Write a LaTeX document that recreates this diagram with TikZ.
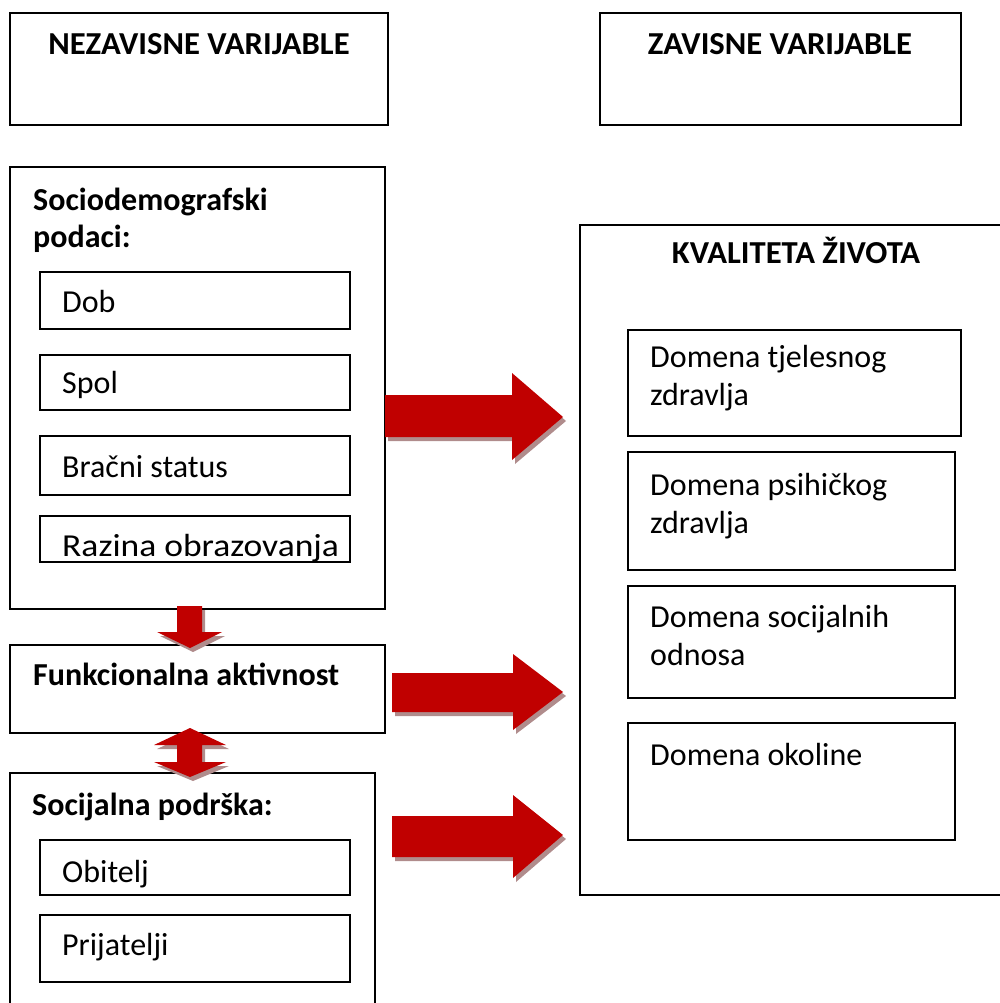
\documentclass[tikz,border=0pt]{standalone}
\usepackage{fontspec}
\setmainfont{Carlito}
\definecolor{arrowc}{RGB}{192,0,0}
\definecolor{shadowc}{RGB}{176,140,140}
\newcommand\myblockarrow[1]{%
  \fill[shadowc, shift={(3,4)}] #1;
  \fill[arrowc] #1;}
\begin{document}
\begin{tikzpicture}[x=1pt,y=-1pt,
  box/.style={draw=black, line width=1.6pt, fill=white},
  txt/.style={inner sep=0pt, anchor=base west, font=\fontsize{32}{38}\selectfont},
  btxt/.style={txt, font=\fontsize{32}{38}\selectfont\bfseries},
  htxt/.style={inner sep=0pt, anchor=base, font=\fontsize{32}{38}\selectfont\bfseries}]
\useasboundingbox (0,0) rectangle (1000,1003);
\clip (0,0) rectangle (1000,1003);
% header boxes
\draw[box] (10,13) rectangle (388,125);
\node[htxt] (nez) at (199,55) {\scalebox{1.02}[1]{NEZAVISNE VARIJABLE}};
\draw[box] (600,13) rectangle (961,125);
\node[htxt] (zav) at (780,55) {\scalebox{1.02}[1]{ZAVISNE VARIJABLE}};
% sociodemographic
\draw[box] (10,167) rectangle (385,609);
\node[btxt] (socd1) at (33,210) {Sociodemografski};
\node[btxt] (socd2) at (33,247) {podaci:};
\draw[box] (40,272) rectangle (350,329);
\node[txt] (dob) at (62,312) {Dob};
\draw[box] (40,355) rectangle (350,410);
\node[txt] (spol) at (62,393) {Spol};
\draw[box] (40,436) rectangle (350,495);
\node[txt] (brac) at (62,477) {Bračni status};
\draw[box] (40,516) rectangle (350,562);
\node[txt] (raz) at (62,556) {\scalebox{1.11}[1]{Razina obrazovanja}};
% functional
\draw[box] (10,645) rectangle (385,733);
\node[btxt] (funk) at (33,685) {Funkcionalna aktivnost};
% social support
\draw[box] (10,773) rectangle (375,1020);
\node[btxt] (socp) at (32,815) {Socijalna podrška:};
\draw[box] (40,840) rectangle (350,895);
\node[txt] (obi) at (62,882) {Obitelj};
\draw[box] (40,915) rectangle (350,982);
\node[txt] (pri) at (62,955) {Prijatelji};
% quality of life
\draw[box] (580,225) rectangle (1020,895);
\node[htxt] (kv) at (796,263) {\scalebox{1.02}[1]{KVALITETA ŽIVOTA}};
\draw[box] (628,330) rectangle (961,436);
\node[txt] (d1a) at (650,367) {Domena tjelesnog};
\node[txt] (d1b) at (650,405) {zdravlja};
\draw[box] (628,452) rectangle (955,570);
\node[txt] (d2a) at (650,495) {Domena psihičkog};
\node[txt] (d2b) at (650,533) {zdravlja};
\draw[box] (628,586) rectangle (955,698);
\node[txt] (d3a) at (650,627) {Domena socijalnih};
\node[txt] (d3b) at (650,665) {odnosa};
\draw[box] (628,723) rectangle (955,840);
\node[txt] (d4) at (650,765) {Domena okoline};
% block arrows
\myblockarrow{(385,395) -- (512,395) -- (512,373) -- (563,417) -- (512,460) -- (512,437) -- (385,437) -- cycle}
\myblockarrow{(392,673) -- (513,673) -- (513,654) -- (563,692) -- (513,730) -- (513,712) -- (392,712) -- cycle}
\myblockarrow{(392,816) -- (513,816) -- (513,795) -- (563,835) -- (513,878) -- (513,857) -- (392,857) -- cycle}
\myblockarrow{(177,606) -- (202,606) -- (202,632) -- (222,632) -- (190,648) -- (157,632) -- (177,632) -- cycle}
\myblockarrow{(190,728) -- (226,745) -- (202,745) -- (202,762) -- (226,762) -- (190,777) -- (154,762) -- (177,762) -- (177,745) -- (154,745) -- cycle}
\end{tikzpicture}
\end{document}
